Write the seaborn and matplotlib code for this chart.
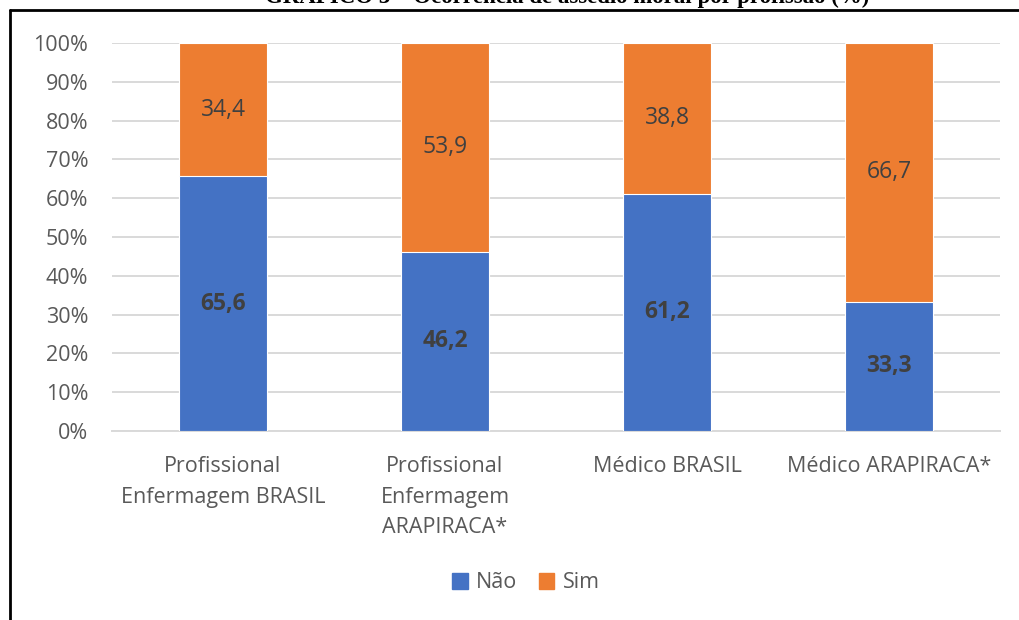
import matplotlib
matplotlib.use("Agg")
import matplotlib.pyplot as plt
from matplotlib.patches import Patch
from matplotlib.lines import Line2D
from matplotlib.ticker import FuncFormatter, MultipleLocator
import seaborn as sns
import pandas as pd

# Ocorrência de assédio moral por profissão (%)
categorias = [
    "Profissional\nEnfermagem BRASIL",
    "Profissional\nEnfermagem\nARAPIRACA*",
    "Médico BRASIL",
    "Médico ARAPIRACA*",
]
nao = [65.6, 46.2, 61.2, 33.3]
sim = [34.4, 53.9, 38.8, 66.7]

COR_NAO = "#4472C4"
COR_SIM = "#ED7D31"
COR_TEXTO = "#595959"
COR_ROTULO = "#404040"
COR_GRADE = "#D9D9D9"

sns.set_theme(style="white")
plt.rcParams["font.family"] = ["Open Sans", "DejaVu Sans"]

df = pd.DataFrame({
    "categoria": categorias,
    "Não": nao,
    "Sim": sim,
})
df["total"] = df["Não"] + df["Sim"]

fig = plt.figure(figsize=(10.19, 6.2), dpi=100)
ax = fig.add_axes([112 / 1019, 1 - 431 / 620, 888 / 1019, 388 / 620])

# stacked columns: full height in orange, "Não" share over it in blue
sns.barplot(data=df, x="categoria", y="total", color=COR_SIM, width=0.4,
            edgecolor="white", linewidth=0.8, saturation=1, ax=ax, zorder=3)
sns.barplot(data=df, x="categoria", y="Não", color=COR_NAO, width=0.4,
            edgecolor="white", linewidth=0.8, saturation=1, ax=ax, zorder=4)

# value labels in the middle of each segment
for i, (n, s) in enumerate(zip(nao, sim)):
    ax.text(i, n / 2, f"{n:.1f}".replace(".", ","), ha="center", va="center",
            fontsize=16.5, fontweight="bold", color=COR_ROTULO, zorder=5)
    ax.text(i, n + s / 2, f"{s:.1f}".replace(".", ","), ha="center", va="center",
            fontsize=16.5, color=COR_ROTULO, zorder=5)

ax.set_xlim(-0.5, 3.5)
ax.set_ylim(0, 100)
ax.yaxis.set_major_locator(MultipleLocator(10))
ax.yaxis.set_major_formatter(FuncFormatter(lambda v, _: f"{v:.0f}%"))
ax.grid(axis="y", color=COR_GRADE, linewidth=1.4, zorder=0)
ax.grid(axis="x", visible=False)
ax.set_axisbelow(True)
for lado in ["top", "right", "left"]:
    ax.spines[lado].set_visible(False)
ax.spines["bottom"].set_color(COR_GRADE)
ax.spines["bottom"].set_linewidth(1.4)
ax.set_xlabel("")
ax.set_ylabel("")
ax.tick_params(axis="y", length=0, labelsize=15.5, colors=COR_TEXTO, pad=17)
ax.tick_params(axis="x", length=0, labelsize=15.5, colors=COR_TEXTO, pad=18)
for t in ax.get_xticklabels():
    t.set_linespacing(1.6)
    t.set_va("top")

fig.legend(
    handles=[Patch(color=COR_NAO, label="Não"), Patch(color=COR_SIM, label="Sim")],
    loc="center", bbox_to_anchor=(526 / 1019, 1 - 583 / 620), ncol=2,
    frameon=False, handlelength=0.7, handleheight=0.7, handletextpad=0.4,
    columnspacing=1.0, labelcolor=COR_TEXTO, prop={"family": "Open Sans", "size": 15.5},
)

# frame lines around the chart area
fig.add_artist(Line2D([10 / 1019, 1.0], [1 - 10 / 620, 1 - 10 / 620],
                      color="black", linewidth=2, transform=fig.transFigure))
fig.add_artist(Line2D([10 / 1019, 10 / 1019], [0.0, 1 - 10 / 620],
                      color="black", linewidth=2, transform=fig.transFigure))

fig.text(567 / 1019, 1 - 3 / 620,
         "GRÁFICO 3 – Ocorrência de assédio moral por profissão (%)",
         ha="center", va="baseline", fontsize=16.5, fontweight="bold",
         family="Liberation Serif", color="black")

fig.savefig("out.png", dpi=100)
